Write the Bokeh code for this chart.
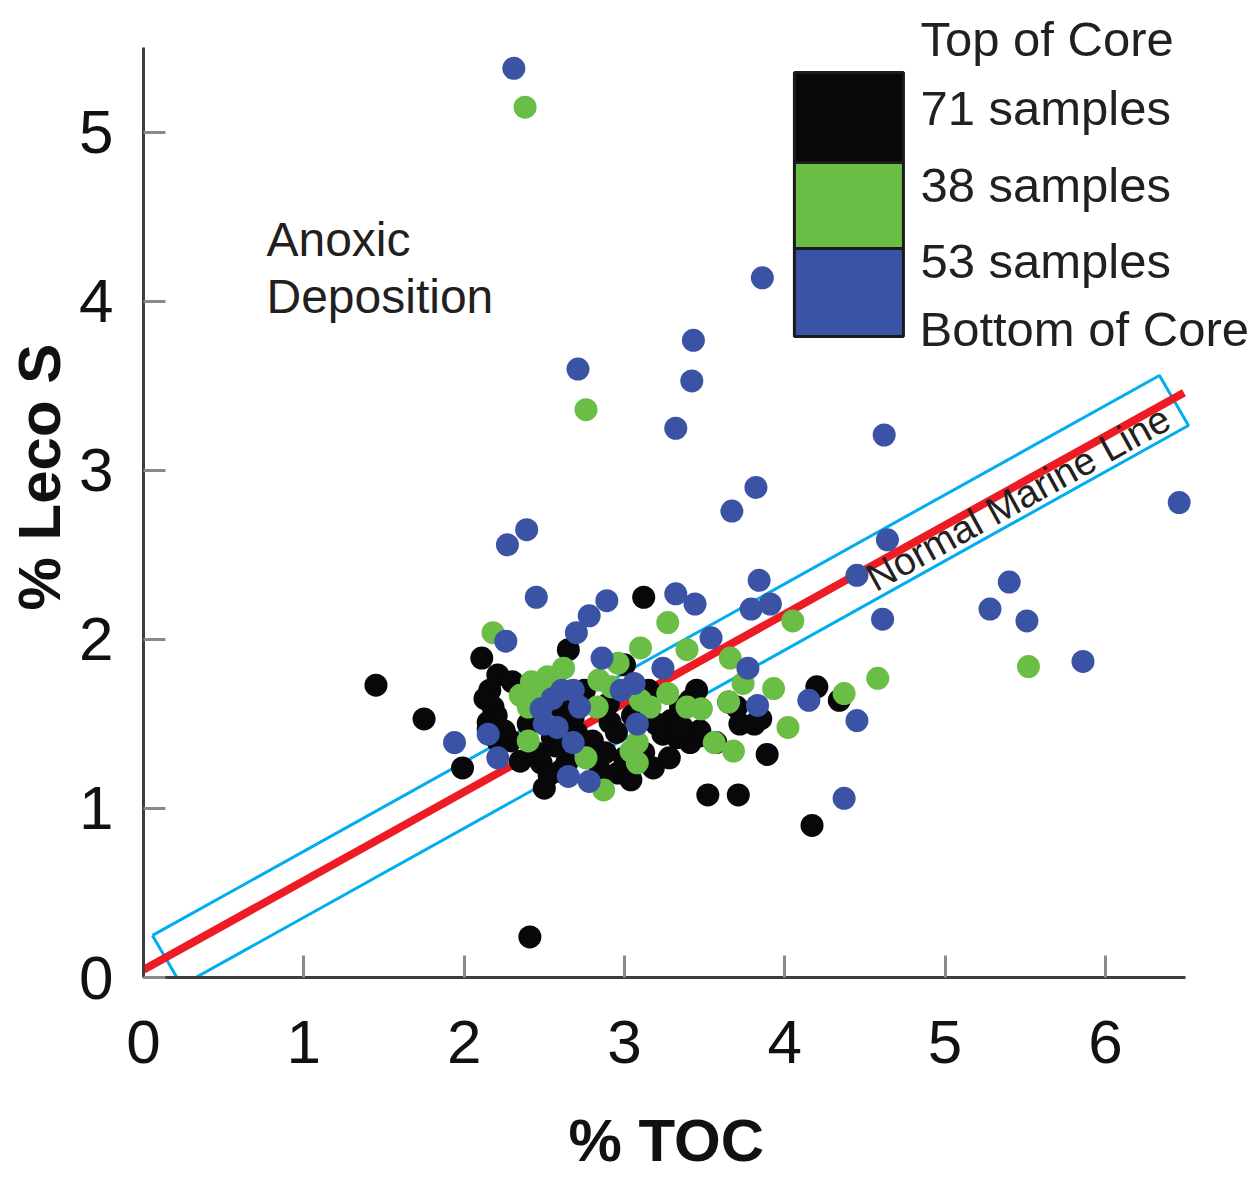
from bokeh.plotting import figure
from bokeh.models import Range1d, FixedTicker, Title
from bokeh.core.properties import value
from bokeh.embed import file_html
from bokeh.resources import INLINE

# ---------------- data ----------------
# Top of core samples (black)
top_x = [1.45, 1.75, 1.99, 2.11, 2.21, 2.16, 2.18, 2.15, 2.29, 2.41,
         2.50, 2.65, 3.12, 2.68, 2.48, 2.91, 2.77, 2.96, 3.04, 3.24,
         3.33, 3.41, 3.18, 3.41, 3.81, 3.89, 3.52, 3.71, 4.17, 4.20,
         4.34, 2.85, 3.29, 3.47, 2.35, 2.57, 2.21, 2.60, 2.13, 2.20,
         2.25, 2.45, 2.53, 2.55, 2.64, 2.70, 2.80, 2.88, 2.95, 3.00,
         3.12, 3.20, 3.28, 3.36, 3.47, 3.57, 3.72, 3.85, 3.35, 3.05,
         2.40, 2.30, 2.75, 3.00, 3.65, 3.70, 2.60, 3.15, 2.90, 3.45,
         2.15]
top_y = [1.73, 1.53, 1.24, 1.89, 1.79, 1.70, 1.60, 1.51, 1.40, 0.24,
         1.12, 1.94, 2.25, 1.54, 1.27, 1.51, 1.30, 1.21, 1.17, 1.44,
         1.42, 1.39, 1.24, 1.64, 1.50, 1.32, 1.08, 1.08, 0.90, 1.72,
         1.64, 1.22, 1.52, 1.46, 1.28, 1.37, 1.40, 1.22, 1.65, 1.55,
         1.46, 1.33, 1.20, 1.42, 1.27, 1.45, 1.40, 1.33, 1.45, 1.30,
         1.33, 1.50, 1.30, 1.48, 1.43, 1.39, 1.50, 1.53, 1.60, 1.55,
         1.50, 1.75, 1.70, 1.85, 1.63, 1.60, 1.60, 1.70, 1.62, 1.70,
         1.47]

# Middle samples (green)
mid_x = [2.38, 2.76, 2.18, 2.35, 2.52, 2.62, 2.84, 2.96, 3.10, 3.27,
         3.39, 3.66, 4.05, 3.27, 3.10, 3.65, 3.74, 3.93, 4.37, 4.58,
         5.52, 4.02, 3.56, 3.68, 3.16, 3.39, 3.08, 3.08, 2.87, 2.40,
         2.40, 2.83, 3.04, 2.76, 2.42, 3.48, 2.47, 2.92]
mid_y = [5.15, 3.36, 2.04, 1.67, 1.78, 1.83, 1.76, 1.86, 1.95, 2.10,
         1.94, 1.89, 2.11, 1.68, 1.64, 1.63, 1.74, 1.71, 1.68, 1.77,
         1.84, 1.48, 1.39, 1.34, 1.60, 1.60, 1.39, 1.27, 1.11, 1.60,
         1.40, 1.60, 1.34, 1.30, 1.75, 1.59, 1.70, 1.72]

# Bottom of core samples (blue)
bot_x = [2.31, 3.86, 2.71, 3.43, 3.42, 3.32, 4.62, 3.82, 3.67, 6.46,
         2.39, 2.27, 4.64, 3.84, 5.40, 4.45, 2.45, 2.89, 3.32, 3.44,
         3.91, 3.79, 5.28, 5.51, 4.61, 2.70, 2.78, 2.86, 2.26, 3.54,
         3.77, 5.86, 4.15, 3.83, 4.45, 4.37, 1.94, 2.15, 2.21, 2.50,
         2.68, 2.65, 2.78, 2.61, 2.68, 2.98, 2.48, 3.08, 3.24, 3.06,
         2.58, 2.72, 2.55]
bot_y = [5.38, 4.14, 3.60, 3.77, 3.53, 3.25, 3.21, 2.90, 2.76, 2.81,
         2.65, 2.56, 2.59, 2.35, 2.34, 2.38, 2.25, 2.23, 2.27, 2.21,
         2.21, 2.18, 2.18, 2.11, 2.12, 2.04, 2.14, 1.89, 1.99, 2.01,
         1.83, 1.87, 1.64, 1.61, 1.52, 1.06, 1.39, 1.44, 1.30, 1.50,
         1.39, 1.19, 1.16, 1.70, 1.70, 1.70, 1.59, 1.50, 1.83, 1.74,
         1.48, 1.60, 1.65]

# Normal marine line and its band
marine_x = [0.0, 6.49]
marine_y = [0.046, 3.46]
band_x = [0.056, 0.237, 6.518, 6.337, 0.056]
band_y = [0.249, -0.047, 3.266, 3.562, 0.249]

x_ticks = [0, 1, 2, 3, 4, 5, 6]
y_ticks = [0, 1, 2, 3, 4, 5]

series_colors = ["#08080a", "#6abd45", "#3a53a4"]

FONT = "Liberation Sans"
TXT = "#231f20"

# ---------------- figure ----------------
p = figure(width=1259, height=1177,
           x_range=Range1d(0, 6.961), y_range=Range1d(0, 5.781),
           output_backend="svg", toolbar_location=None,
           min_border_left=143, min_border_right=0,
           min_border_top=0, min_border_bottom=200)
p.outline_line_color = None
p.xgrid.visible = False
p.ygrid.visible = False
p.background_fill_color = "white"
p.border_fill_color = "white"

for ax, ticks, bnd in ((p.xaxis, x_ticks, (0, 6.5)),
                       (p.yaxis, y_ticks, (0, 5.5))):
    ax.ticker = FixedTicker(ticks=ticks)
    ax.bounds = bnd
    ax.axis_line_color = "#3d3d3d"
    ax.axis_line_width = 3
    ax.major_tick_in = 22
    ax.major_tick_out = 0
    ax.major_tick_line_color = "#8a8a8a"
    ax.major_tick_line_width = 3
    ax.minor_tick_line_color = None
    ax.major_label_text_font = FONT
    ax.major_label_text_font_size = "62px"
    ax.major_label_text_color = "#111111"

p.xaxis.major_label_standoff = 43
p.yaxis.major_label_standoff = 30
# blank spacer label to leave room between tick labels and the title below
p.xaxis.axis_label = " "
p.xaxis.axis_label_text_font_size = "30px"
p.xaxis.axis_label_standoff = 5

# axis titles (placed in the side panels)
p.add_layout(Title(text="% TOC", align="left", offset=425, standoff=0,
                   vertical_align="top", text_font=FONT,
                   text_font_size="60px", text_font_style="bold",
                   text_color="#111111"), "below")
p.add_layout(Title(text="% Leco S", align="left", offset=367, standoff=5,
                   vertical_align="middle", text_font=FONT,
                   text_font_size="60px", text_font_style="bold",
                   text_color="#111111"), "left")

# band and line
p.line(band_x, band_y, line_color="#00aeef", line_width=3)
p.line(marine_x, marine_y, line_color="#ed1c24", line_width=8)

# points: black, then green, then blue on top
for xs, ys, c in ((top_x, top_y, series_colors[0]),
                  (mid_x, mid_y, series_colors[1]),
                  (bot_x, bot_y, series_colors[2])):
    p.scatter(xs, ys, size=23, fill_color=c, line_color=None)

# rotated label on the band
p.text(x=[4.527], y=[2.350], text=["Normal Marine Line"], angle=0.506,
       text_font=value(FONT), text_font_size="39px", text_color=TXT,
       text_align="left", text_baseline="alphabetic")

# annotation
p.text(x=[0.767, 0.767], y=[4.364, 4.027], text=["Anoxic", "Deposition"],
       text_font=value(FONT), text_font_size="48px", text_color=TXT,
       text_align="left", text_baseline="alphabetic")

# legend (colour column with labels)
p.quad(left=[4.060] * 3, right=[4.740] * 3,
       top=[5.355, 4.822, 4.314], bottom=[4.822, 4.314, 3.793],
       fill_color=series_colors, line_color="#1b1b1b", line_width=3)
legend_text = ["Top of Core",
               f"{len(top_x)} samples",
               f"{len(mid_x)} samples",
               f"{len(bot_x)} samples",
               "Bottom of Core"]
p.text(x=[4.846, 4.846, 4.846, 4.846, 4.840],
       y=[5.553, 5.145, 4.689, 4.239, 3.837], text=legend_text,
       text_font=value(FONT), text_font_size="49px", text_color=TXT,
       text_align="left", text_baseline="alphabetic")

open("out.html", "w").write(file_html(p, INLINE))
